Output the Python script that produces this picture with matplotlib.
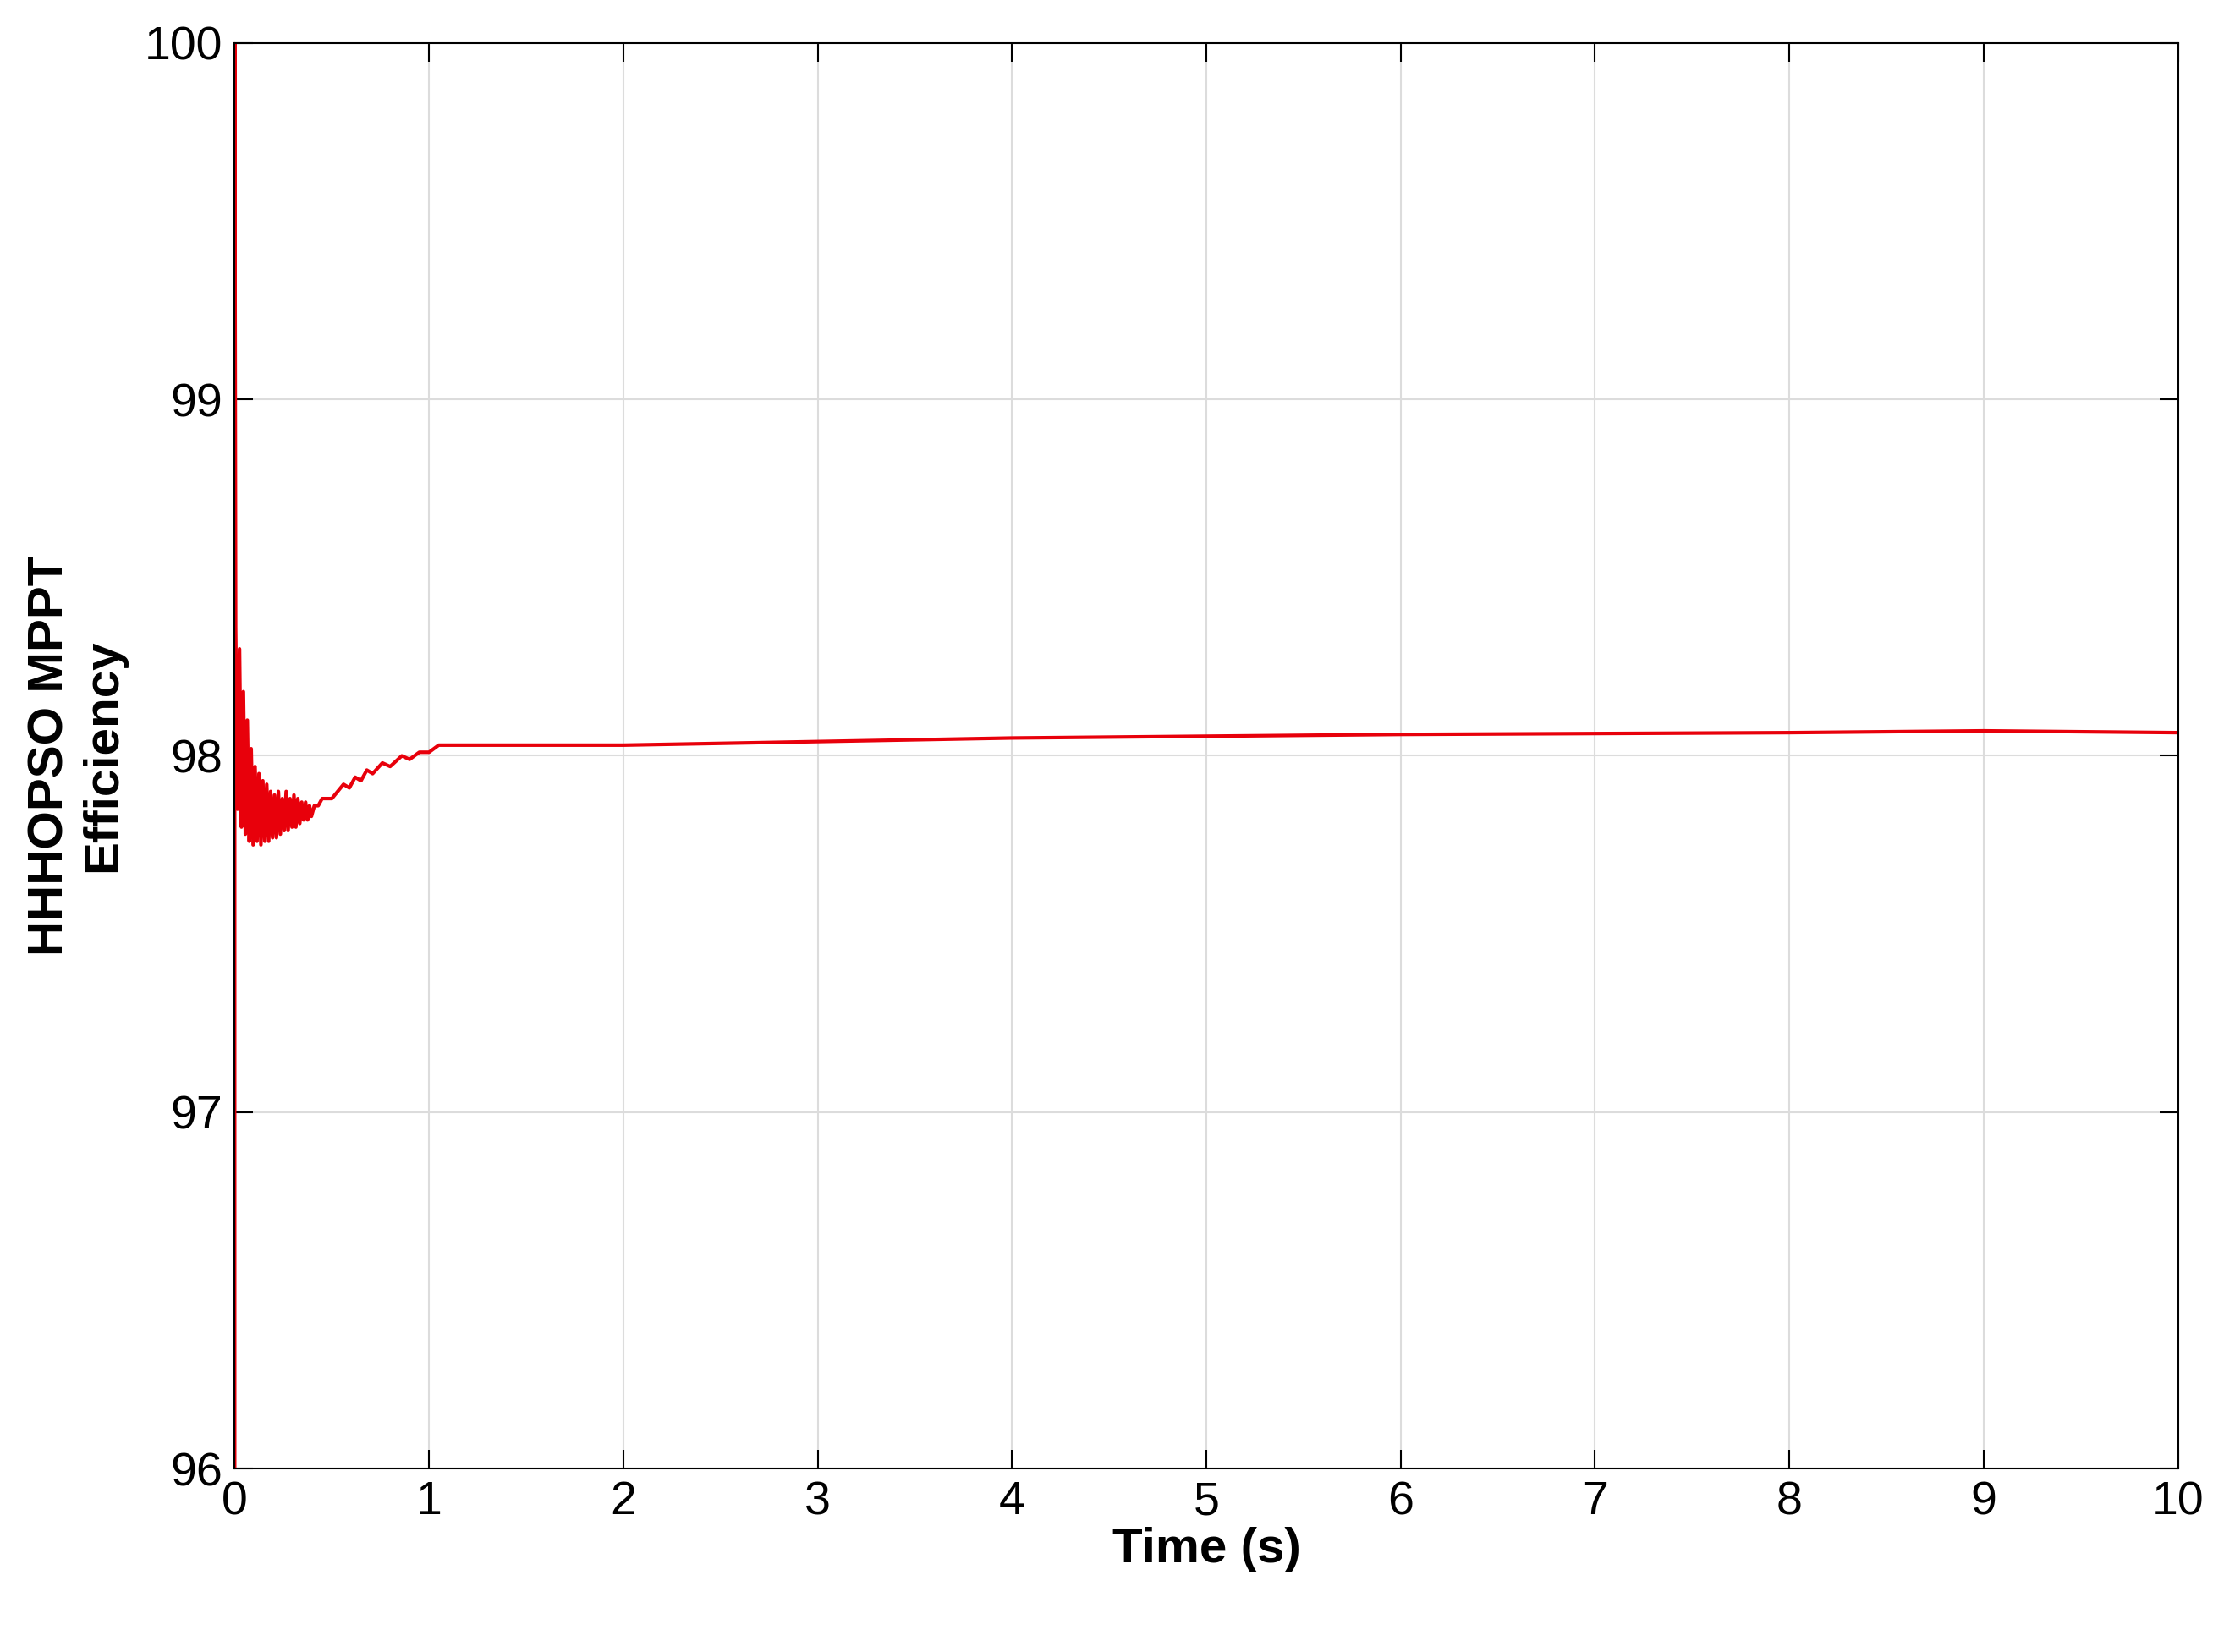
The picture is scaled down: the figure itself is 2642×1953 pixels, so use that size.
import matplotlib
matplotlib.use("Agg")
import matplotlib.pyplot as plt

# initial spike, oscillating transient, slow settle
time_s = [0.0, 0.0, 0.005, 0.015, 0.025, 0.035, 0.045, 0.055, 0.065, 0.075, 0.085,
          0.095, 0.105, 0.115, 0.125, 0.135, 0.145, 0.155, 0.165, 0.175, 0.185,
          0.195, 0.205, 0.215, 0.225, 0.235, 0.245, 0.255, 0.265, 0.275, 0.285,
          0.295, 0.305, 0.315, 0.325, 0.335, 0.345, 0.355, 0.365, 0.375, 0.385,
          0.395, 0.41, 0.43, 0.45, 0.5, 0.53, 0.56, 0.59, 0.62, 0.65, 0.68, 0.71,
          0.76, 0.8, 0.86, 0.9, 0.95, 1.0, 1.05, 1.1, 2.0, 4.0, 6.0, 8.0, 9.0, 10.0]
efficiency = [96.0, 100.0, 98.36, 97.85, 98.3, 97.8, 98.18, 97.78, 98.1, 97.76,
              98.02, 97.75, 97.97, 97.76, 97.95, 97.75, 97.93, 97.76, 97.92, 97.76,
              97.9, 97.77, 97.89, 97.77, 97.9, 97.78, 97.88, 97.79, 97.9, 97.79,
              97.88, 97.8, 97.89, 97.8, 97.88, 97.81, 97.87, 97.82, 97.87, 97.82,
              97.86, 97.83, 97.86, 97.86, 97.88, 97.88, 97.9, 97.92, 97.91, 97.94,
              97.93, 97.96, 97.95, 97.98, 97.97, 98.0, 97.99, 98.01, 98.01, 98.03,
              98.03, 98.03, 98.05, 98.06, 98.065, 98.07, 98.065]

plt.rcParams["font.family"] = ["Liberation Sans", "DejaVu Sans"]

fig = plt.figure(figsize=(26.42, 19.53), dpi=100)
ax = fig.add_axes([0.105, 0.111, 0.8695, 0.863])
ax.plot(time_s, efficiency, color="#e8000b", linewidth=3)
ax.set_xlim(0, 10)
ax.set_ylim(96, 100)
ax.set_xticks(range(0, 11))
ax.set_yticks([96, 97, 98, 99, 100])
ax.grid(True, color="#dcdcdc", linewidth=1.5)
ax.tick_params(direction="in", top=True, right=True, length=16, width=1.5,
               labelsize=40, pad=10)
for s in ax.spines.values():
    s.set_linewidth(1.5)
ax.set_xlabel("Time (s)", fontsize=42, fontweight="bold", labelpad=2)
ax.set_ylabel("HHHOPSO MPPT\nEfficiency", fontsize=42, fontweight="bold", labelpad=16)
fig.savefig("out.png", dpi=100)
